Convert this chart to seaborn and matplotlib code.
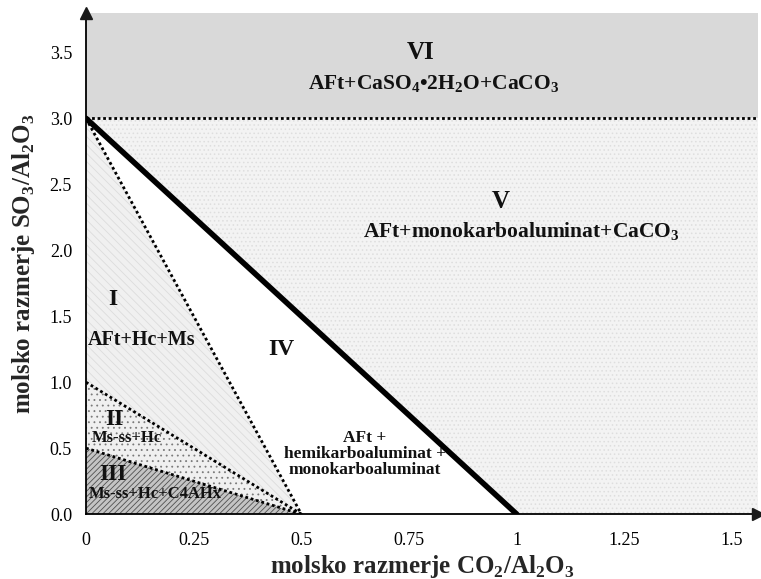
import numpy as np
import pandas as pd
import matplotlib
matplotlib.use("Agg")
import matplotlib.pyplot as plt
import seaborn as sns

# ---- data ----
sulfate_limit = 3.0
x_max = 1.56
y_max = 3.80
line_IV_V_x = [0.0, 1.0]
line_IV_V_y = [3.0, 0.0]
line_I_IV_x = [0.0, 0.5]
line_I_IV_y = [3.0, 0.0]
line_I_II_x = [0.0, 0.5]
line_I_II_y = [1.0, 0.0]
line_II_III_x = [0.0, 0.5]
line_II_III_y = [0.5, 0.0]
x_ticks = [0, 0.25, 0.5, 0.75, 1.0, 1.25, 1.5]
x_tick_labels = ["0", "0.25", "0.5", "0.75", "1", "1.25", "1.5"]
y_ticks = [0.0, 0.5, 1.0, 1.5, 2.0, 2.5, 3.0, 3.5]
y_tick_labels = ["0.0", "0.5", "1.0", "1.5", "2.0", "2.5", "3.0", "3.5"]

sns.set_theme(style="white")
plt.rcParams["font.family"] = ["Liberation Serif", "DejaVu Serif"]
plt.rcParams["mathtext.fontset"] = "custom"
plt.rcParams["mathtext.rm"] = "Liberation Serif"
plt.rcParams["mathtext.bf"] = "Liberation Serif:bold"
plt.rcParams["hatch.linewidth"] = 0.6

fig = plt.figure(figsize=(7.61, 5.79), dpi=100)
ax = fig.add_axes([0.113, 0.112, 0.883, 0.866])
ax.set_xlim(0, x_max)
ax.set_ylim(0, y_max)

xs = np.linspace(0, x_max, 400)
xa = np.linspace(0, 0.5, 200)
y_ivv = np.interp(xs, line_IV_V_x, line_IV_V_y, right=0.0)
y_iiv = np.interp(xa, line_I_IV_x, line_I_IV_y)
y_iii = np.interp(xa, line_I_II_x, line_I_II_y)
y_iiiii = np.interp(xa, line_II_III_x, line_II_III_y)

# region VI
ax.fill_between(xs, sulfate_limit, y_max, color="#d9d9d9", lw=0, zorder=1)
# region V
ax.fill_between(xs, y_ivv, sulfate_limit, facecolor="#f3f3f3", edgecolor="#dedede",
                hatch="....", lw=0, zorder=1)
# region I
ax.fill_between(xa, y_iii, y_iiv, facecolor="#f0f0f0", edgecolor="#dcdcdc",
                hatch="\\\\\\\\", lw=0, zorder=1)
# region II
ax.fill_between(xa, y_iiiii, y_iii, facecolor="#f0f0f0", edgecolor="#7a7a7a",
                hatch="...", lw=0, zorder=1)
# region III
ax.fill_between(xa, 0, y_iiiii, facecolor="#c4c4c4", edgecolor="#505050",
                hatch="//////", lw=0, zorder=1)

dotted = dict(color="black", linestyle=(0, (1, 1)), linewidth=2.0)
sns.lineplot(x=[0, x_max], y=[sulfate_limit, sulfate_limit], ax=ax, zorder=3, **dotted)
sns.lineplot(x=line_I_IV_x, y=line_I_IV_y, ax=ax, zorder=3, **dotted)
sns.lineplot(x=line_I_II_x, y=line_I_II_y, ax=ax, zorder=3, **dotted)
sns.lineplot(x=line_II_III_x, y=line_II_III_y, ax=ax, zorder=3, **dotted)
sns.lineplot(x=line_IV_V_x, y=line_IV_V_y, ax=ax, color="black", linewidth=4.0, zorder=4)

# spines & arrows
for s in ["top", "right"]:
    ax.spines[s].set_visible(False)
for s in ["left", "bottom"]:
    ax.spines[s].set_color("black")
    ax.spines[s].set_linewidth(1.3)
    ax.spines[s].set_zorder(5)
ax.plot(1, 0, ">k", markersize=9, transform=ax.get_yaxis_transform(), clip_on=False, zorder=6)
ax.plot(0, 1, "^k", markersize=9, transform=ax.get_xaxis_transform(), clip_on=False, zorder=6)

ax.set_xticks(x_ticks)
ax.set_xticklabels(x_tick_labels)
ax.set_yticks(y_ticks)
ax.set_yticklabels(y_tick_labels)
ax.set_xticks(np.arange(0, 1.56, 0.05), minor=True)
ax.set_yticks(np.arange(0, 3.75, 0.1), minor=True)
ax.tick_params(axis="x", which="major", direction="inout", length=9, width=1.0,
               labelsize=13, colors="black", pad=8)
ax.tick_params(axis="x", which="minor", direction="out", length=3, width=0.8, colors="black")
ax.tick_params(axis="y", which="major", direction="out", length=6, width=1.0,
               labelsize=13, colors="black", pad=4)
ax.tick_params(axis="y", which="minor", direction="out", length=3, width=0.8, colors="black")
ax.grid(False)

ax.set_xlabel(r"molsko razmerje CO$_\mathbf{2}$/Al$_\mathbf{2}$O$_\mathbf{3}$",
              fontsize=18, fontweight="bold", labelpad=3)
ax.set_ylabel(r"molsko razmerje SO$_\mathbf{3}$/Al$_\mathbf{2}$O$_\mathbf{3}$",
              fontsize=18, fontweight="bold", labelpad=9)

tk = dict(ha="center", va="center", fontweight="bold", color="#111111", zorder=7)
ax.text(0.777, 3.50, "VI", fontsize=18, **tk)
ax.text(0.807, 3.26, r"AFt+CaSO$_\mathbf{4}$•2H$_\mathbf{2}$O+CaCO$_\mathbf{3}$", fontsize=15.5, **tk)
ax.text(0.963, 2.37, "V", fontsize=18, **tk)
ax.text(1.01, 2.14, r"AFt+monokarboaluminat+CaCO$_\mathbf{3}$", fontsize=15.5, **tk)
ax.text(0.063, 1.63, "I", fontsize=17, **tk)
ax.text(0.130, 1.32, "AFt+Hc+Ms", fontsize=14.5, **tk)
ax.text(0.453, 1.25, "IV", fontsize=17, **tk)
ax.text(0.065, 0.72, "II", fontsize=17, **tk)
ax.text(0.095, 0.58, "Ms-ss+Hc", fontsize=12, **tk)
ax.text(0.063, 0.30, "III", fontsize=17, **tk)
ax.text(0.162, 0.15, "Ms-ss+Hc+C4AHx", fontsize=12, **tk)
ax.text(0.648, 0.455, "AFt +\nhemikarboaluminat +\nmonokarboaluminat", fontsize=12.5,
        linespacing=1.0, **tk)

fig.savefig("out.png", dpi=100)
